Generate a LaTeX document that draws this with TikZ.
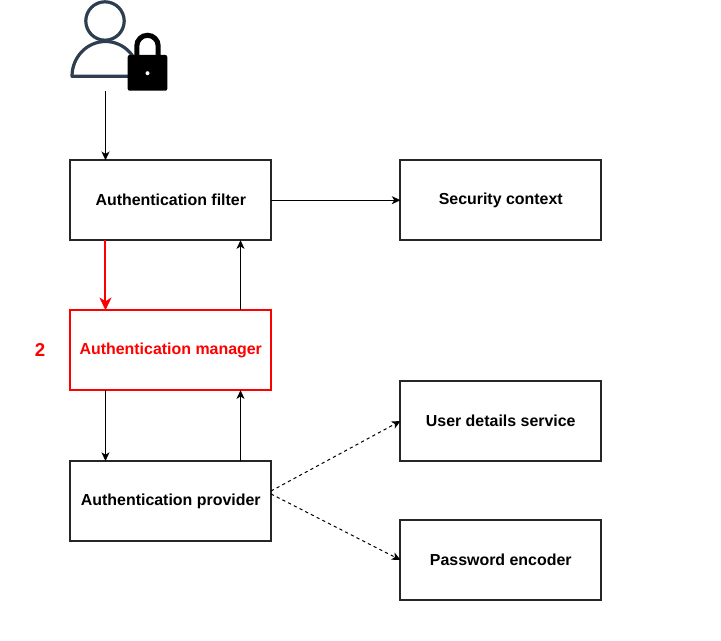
\documentclass[tikz,border=0pt]{standalone}
\usepackage{xcolor}
\usepackage{fontspec}
\setmainfont{Liberation Sans}
\usetikzlibrary{calc,arrows.meta}

\definecolor{usercolor}{HTML}{2C3E50}
\tikzset{
  box/.style={draw=black!85,line width=1.5pt,fill=white,minimum width=150.4pt,minimum height=60pt,
    inner sep=0pt,outer sep=0pt,font=\fontsize{11.95}{14}\selectfont\bfseries},
  redbox/.style={box,draw=red,text=red},
  link/.style={-{Stealth[length=6.5pt,width=6pt,inset=1.8pt]},line width=0.75pt},
  redlink/.style={-{Stealth[length=9.5pt,width=9pt,inset=2.8pt]},line width=1.5pt,red},
  dashlink/.style={link,dash pattern=on 2.4pt off 2.4pt}
}

\begin{document}
\begin{tikzpicture}[x=0.75pt,y=-0.75pt]
\useasboundingbox (0,0) rectangle (721,641);

\pgfmathsetmacro{\LEFTX}{170.75}
\pgfmathsetmacro{\RIGHTX}{500.75}

% boxes
\node[box] (filter) at (\LEFTX,200.2) {Authentication filter};
\node[box] (context) at (\RIGHTX,200.2) {Security context};
\node[redbox] (manager) at (\LEFTX,350.2) {Authentication manager};
\node[box] (provider) at (\LEFTX,501) {Authentication provider};
\node[box] (details) at (\RIGHTX,421) {User details service};
\node[box] (encoder) at (\RIGHTX,560) {Password encoder};
\node[text=red,font=\fontsize{14}{16}\selectfont\bfseries] (step) at (40,350) {2};

% user icon
\draw[usercolor,line width=2.4pt] (105,21) circle[radius=19.2];
\draw[usercolor,line width=2.4pt,line cap=round,line join=round] (72,76.3) arc[start angle=180,end angle=360,x radius=33.5,y radius=34.8] -- cycle;
% lock
\draw[black,line width=3.8pt] (136.8,58) -- (136.8,46) arc[start angle=180,end angle=360,radius=10.7] -- (158.2,58);
\fill[black,rounded corners=1.5pt] (127.7,55) rectangle (167.3,90.7);
\fill[white] (147.5,73.2) circle[radius=2];
\coordinate (user) at (105.5,91);

% arrows
\draw[link] (user) -- (user|-filter.north);
\draw[link] (filter.east) -- (context.west);
\draw[redlink] ($(filter.south west)+(35,0)$) -- ($(manager.north west)+(35,0)$);
\draw[link] ($(manager.north east)+(-30.5,0)$) -- ($(filter.south east)+(-30.5,0)$);
\draw[link] ($(manager.south west)+(35,0)$) -- ($(provider.north west)+(35,0)$);
\draw[link] ($(provider.north east)+(-30.5,0)$) -- ($(manager.south east)+(-30.5,0)$);

% dashed arrows
\draw[dashlink] ($(provider.east)+(0,-10)$) -- (details.west);
\draw[dashlink] ($(provider.east)+(0,-7)$) -- (encoder.west);
\end{tikzpicture}
\end{document}
